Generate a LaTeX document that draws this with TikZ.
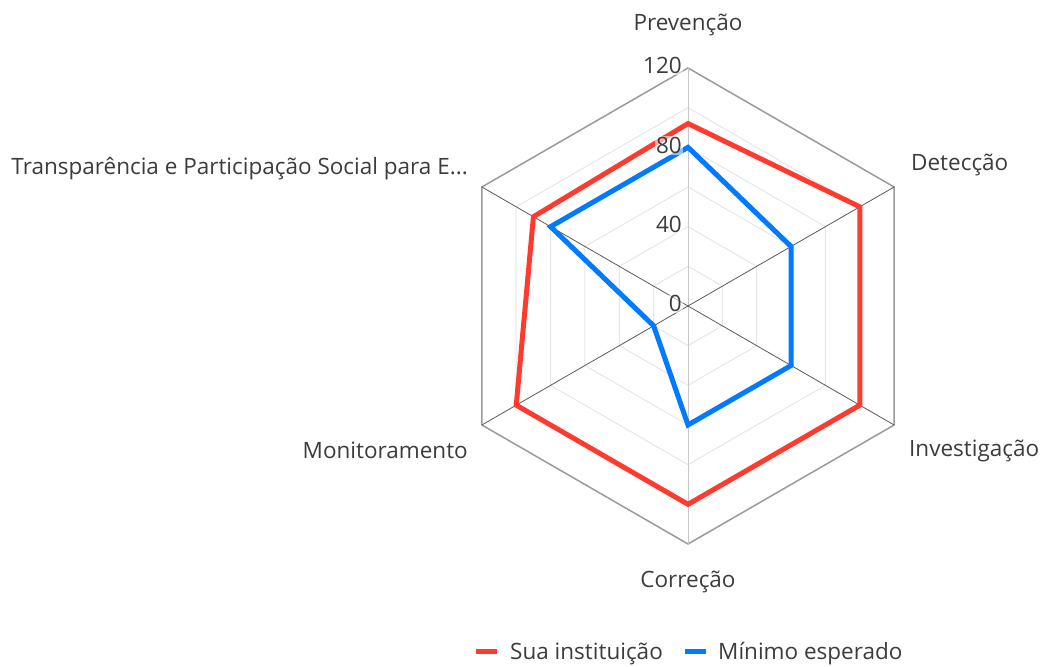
\documentclass[tikz,border=0pt]{standalone}
\usepackage{fontspec}
\setmainfont{Open Sans}
\definecolor{txt}{HTML}{3C3C3C}
\definecolor{redc}{HTML}{FF3B30}
\definecolor{bluec}{HTML}{007AFF}
\definecolor{gridc}{HTML}{E4E6EA}
\definecolor{outerc}{HTML}{9A9A9A}
\definecolor{spokec}{HTML}{5A5A5A}
\definecolor{vspokec}{HTML}{C8C8C8}
\begin{document}
\begin{tikzpicture}[x=1pt,y=1pt,
  lbl/.style={font=\fontsize{22.5}{26}\selectfont, text=txt, inner sep=0pt},
  tick/.style={font=\fontsize{22.5}{26}\selectfont, text=txt, inner sep=1pt, fill=white, fill opacity=0.55, text opacity=1, anchor=base east},
  series/.style={line width=5pt, line join=miter},
  ring/.style={draw=gridc, line width=1pt},
  outer/.style={draw=outerc, line width=1.5pt}]
\useasboundingbox (0,0) rectangle (1043,666);
\def\k{1.98333}
\begin{scope}[shift={(688,360)}]
  \coordinate (C) at (0,0);
  % inner rings
  \foreach \v in {20,40,60,80,100}{
    \pgfmathsetmacro\r{\v*\k}
    \draw[ring] (90:\r) -- (30:\r) -- (-30:\r) -- (-90:\r) -- (-150:\r) -- (150:\r) -- cycle;
  }
  % outer ring
  \pgfmathsetmacro\R{120*\k}
  \coordinate (V1) at (90:\R);
  \coordinate (V2) at (30:\R);
  \coordinate (V3) at (-30:\R);
  \coordinate (V4) at (-90:\R);
  \coordinate (V5) at (-150:\R);
  \coordinate (V6) at (150:\R);
  \draw[outer] (V1) -- (V2) -- (V3) -- (V4) -- (V5) -- (V6) -- cycle;
  % spokes
  \draw[vspokec, line width=1pt] (C) -- (V1);
  \draw[vspokec, line width=1pt] (C) -- (V4);
  \draw[spokec, line width=0.8pt] (C) -- (V2);
  \draw[spokec, line width=0.8pt] (C) -- (V3);
  \draw[spokec, line width=0.8pt] (C) -- (V5);
  \draw[spokec, line width=0.8pt] (C) -- (V6);
  % red series
  \coordinate (R1) at (90:92*\k);
  \coordinate (R2) at (30:100*\k);
  \coordinate (R3) at (-30:100*\k);
  \coordinate (R4) at (-90:100*\k);
  \coordinate (R5) at (-150:100*\k);
  \coordinate (R6) at (150:90*\k);
  \draw[series, redc] (R1) -- (R2) -- (R3) -- (R4) -- (R5) -- (R6) -- cycle;
  % blue series
  \coordinate (B1) at (90:80*\k);
  \coordinate (B2) at (30:60*\k);
  \coordinate (B3) at (-30:60*\k);
  \coordinate (B4) at (-90:60*\k);
  \coordinate (B5) at (-150:20*\k);
  \coordinate (B6) at (150:80*\k);
  \draw[series, bluec] (B1) -- (B2) -- (B3) -- (B4) -- (B5) -- (B6) -- cycle;
\end{scope}
% tick labels
\node[tick] (t0) at (683,666-312) {0};
\node[tick] (t40) at (683,666-232.7) {40};
\node[tick] (t80) at (683,666-153.3) {80};
\node[tick] (t120) at (683,666-74) {120};
% axis labels (absolute pixel coords, y flipped)
\node[lbl, anchor=base] (lPrev) at (688,666-31) {Prevenção};
\node[lbl, anchor=base west] (lDet) at (911,666-171) {Detecção};
\node[lbl, anchor=base west] (lInv) at (909,666-457) {Investigação};
\node[lbl, anchor=base] (lCor) at (688,666-588) {Correção};
\node[lbl, anchor=base east] (lMon) at (468,666-459) {Monitoramento};
\node[lbl, anchor=base east] (lTra) at (468,666-175) {Transparência e Participação Social para E...};
% legend
\coordinate (lr1) at (476,666-651);
\coordinate (lr2) at (497,666-651);
\draw[redc, line width=5pt] (lr1) -- (lr2);
\node[lbl, anchor=base west] (leg1) at (510,666-659) {Sua instituição};
\coordinate (lb1) at (685,666-651);
\coordinate (lb2) at (706,666-651);
\draw[bluec, line width=5pt] (lb1) -- (lb2);
\node[lbl, anchor=base west] (leg2) at (718,666-659) {Mínimo esperado};
\end{tikzpicture}
\end{document}
